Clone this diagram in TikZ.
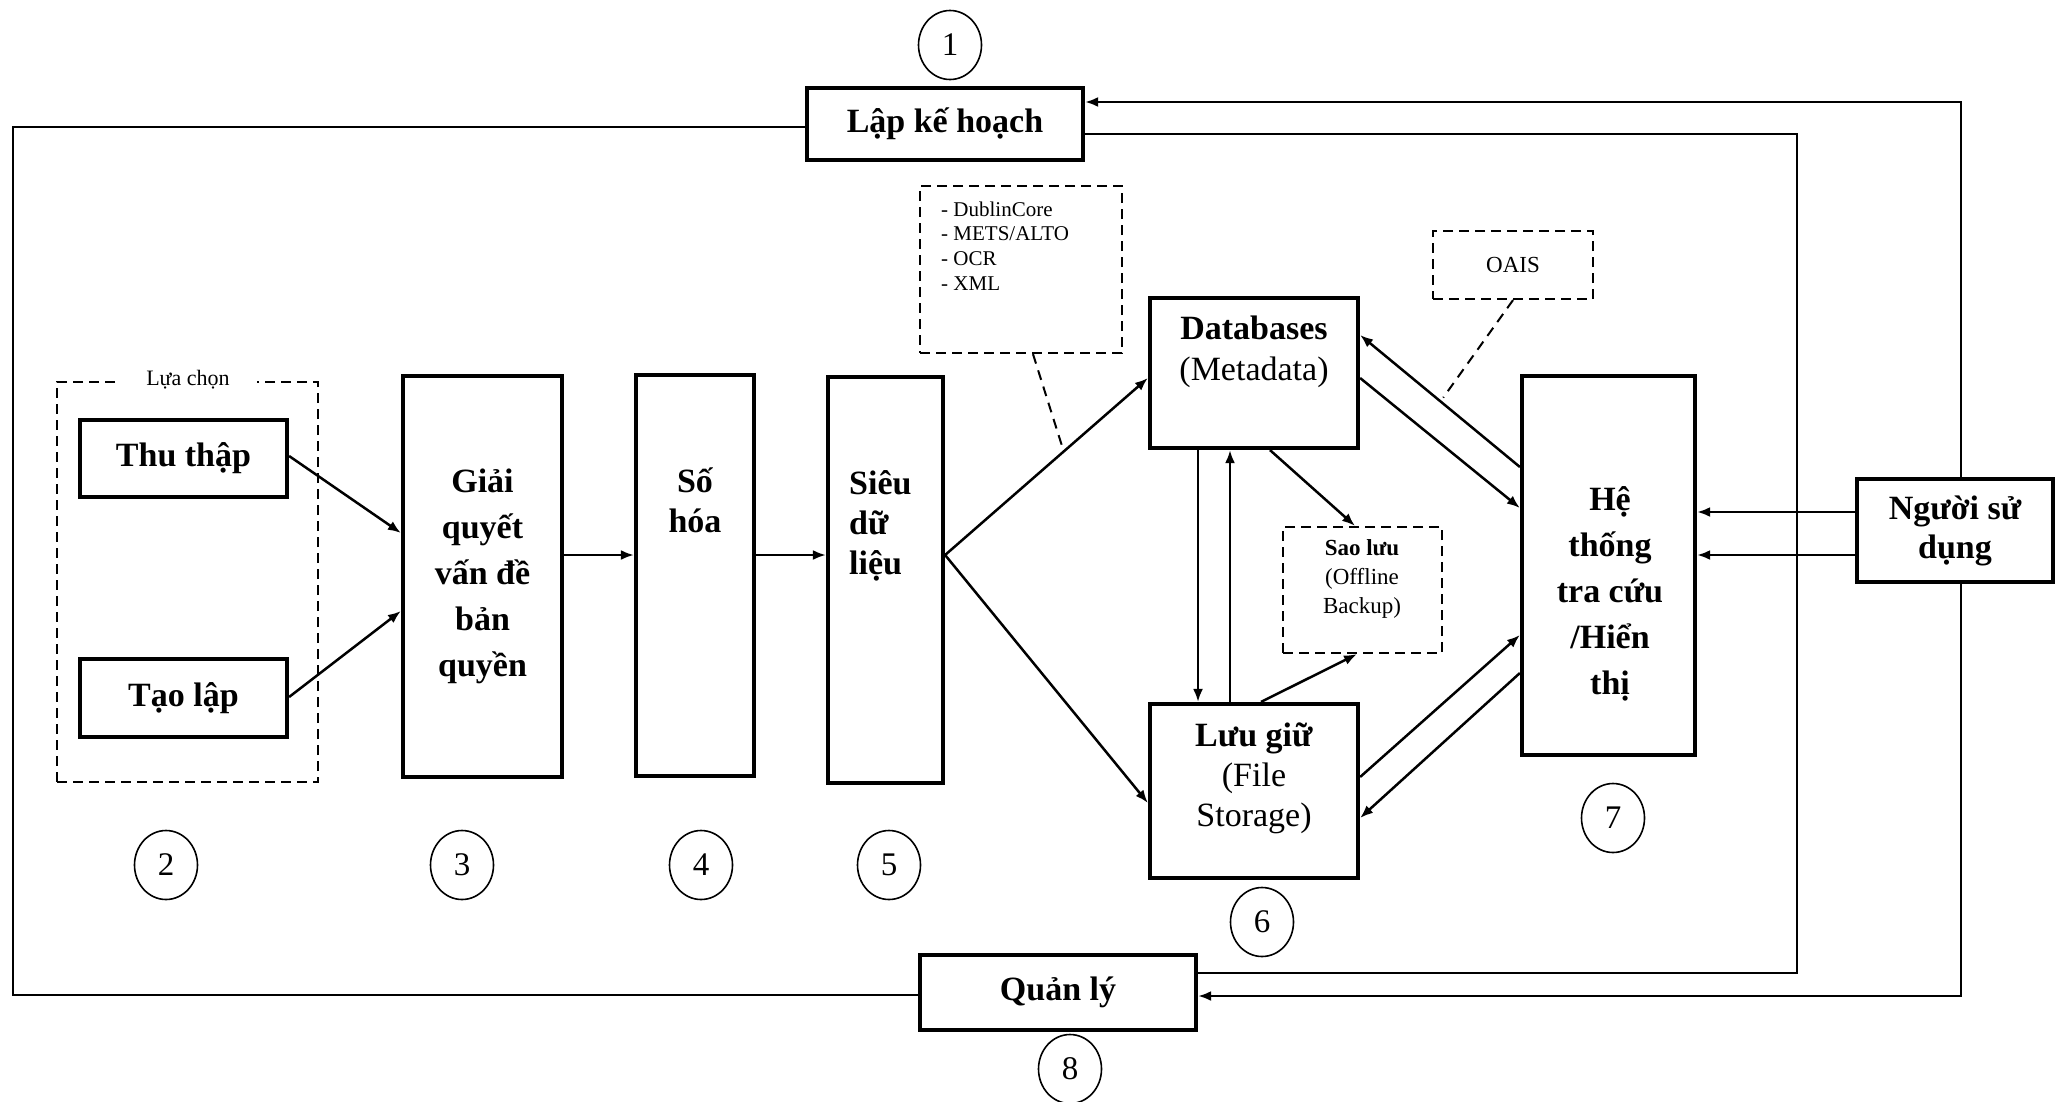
\documentclass[tikz,border=0pt]{standalone}
\usepackage{fontspec}
\setmainfont{Liberation Serif}
\usetikzlibrary{arrows.meta,shapes.geometric,calc}
\begin{document}
\begin{tikzpicture}[x=1pt,y=-1pt,
  box/.style={draw,line width=4.2pt,fill=white,inner sep=0pt},
  dbox/.style={draw,line width=2.2pt,dash pattern=on 10pt off 6pt,inner sep=0pt},
  num/.style={draw,ellipse,line width=1.6pt,minimum width=63pt,minimum height=69pt,inner sep=0pt,font=\fontsize{33}{33}\selectfont},
  big/.style={font=\fontsize{34}{46}\selectfont\bfseries,align=center,inner sep=0pt},
  conn/.style={line width=2.5pt,-{Latex[length=13pt,width=10pt]}},
  plain/.style={line width=2.5pt},
  dconn/.style={line width=2pt,dash pattern=on 10pt off 7pt}]
\useasboundingbox (0,0) rectangle (2058,1101);

% helper rows
\coordinate (r555) at (0,555);

% number ellipses
\node[num] (n1) at (950,45) {1};
\node[num] (n2) at (166,865) {2};
\node[num] (n3) at (462,865) {3};
\node[num] (n4) at (701,865) {4};
\node[num] (n5) at (889,865) {5};
\node[num] (n6) at (1262,922) {6};
\node[num] (n7) at (1613,818) {7};
\node[num] (n8) at (1070,1069) {8};

% dashed group
\node[dbox,minimum width=261pt,minimum height=400pt] (lc) at (187.5,582) {};
\node[fill=white,inner xsep=27pt,inner ysep=2pt,font=\fontsize{22}{22}\selectfont] (lcl) at (188,380) {Lựa chọn};

% main boxes
\node[box,big,minimum width=276pt,minimum height=72pt] (plan) at (945,124) {Lập kế hoạch};
\node[box,big,minimum width=276pt,minimum height=75pt] (mgmt) at (1058,992.5) {Quản lý};
\node[box,big,minimum width=207pt,minimum height=77pt] (thu) at (183.5,458.5) {Thu thập};
\node[box,big,minimum width=207pt,minimum height=78pt] (tao) at (183.5,698) {Tạo lập};
\node[box,big,minimum width=159pt,minimum height=401pt] (giai) at (482.5,576.5) {Giải\\quyết\\vấn đề\\bản\\quyền};
\node[box,minimum width=118pt,minimum height=401pt] (soh) at (695,575.5) {};
\node[big,font=\fontsize{34}{40}\selectfont\bfseries] (sohT) at (695,500) {Số\\hóa};
\node[box,minimum width=115pt,minimum height=406pt] (sieu) at (885.5,580) {};
\node[big,align=left,anchor=west,font=\fontsize{34}{40}\selectfont\bfseries] (sieuT) at (849,526) {Siêu\\dữ\\liệu};
\node[box,minimum width=208pt,minimum height=150pt] (db) at (1254,373) {};
\node[big,font=\fontsize{34}{41}\selectfont] (dbT) at (1254,352) {\textbf{Databases}\\(Metadata)};
\node[box,minimum width=208pt,minimum height=174pt] (luu) at (1254,791) {};
\node[big,font=\fontsize{34}{40}\selectfont] (luuT) at (1254,778) {\textbf{Lưu giữ}\\(File\\Storage)};
\node[box,minimum width=173pt,minimum height=379pt] (he) at (1608.5,565.5) {};
\node[big] (heT) at (1610,594) {Hệ\\thống\\tra cứu\\/Hiển\\thị};
\node[box,big,font=\fontsize{34}{39}\selectfont\bfseries,minimum width=196pt,minimum height=103pt] (user) at (1955,530.5) {Người sử\\dụng};

% dashed notes
\node[dbox,minimum width=202pt,minimum height=167pt] (meta) at (1021,269.5) {};
\node[anchor=west,align=left,inner sep=0pt,font=\fontsize{21}{24.7}\selectfont] (metaT) at (941,246) {- DublinCore\\- METS/ALTO\\- OCR\\- XML};
\node[dbox,minimum width=160pt,minimum height=68pt,font=\fontsize{23}{23}\selectfont] (oais) at (1513,265) {OAIS};
\node[dbox,minimum width=159pt,minimum height=126pt] (sao) at (1362.5,590) {};
\node[align=center,inner sep=0pt,font=\fontsize{23}{29}\selectfont] (saoT) at (1362,579) {\textbf{Sao lưu}\\(Offline\\Backup)};

% flow connectors
\draw[conn] ($(thu.east)+(0,-2.5)$) -- (giai.west |- 0,533);
\draw[conn] ($(tao.east)+(0,-1)$) -- (giai.west |- 0,611);
\draw[conn] (giai.east |- r555) -- (soh.west |- r555);
\draw[conn] (soh.east |- r555) -- (sieu.west |- r555);
\coordinate (sA) at (sieu.east |- r555);
\coordinate (dA) at (db.west |- 0,378);
\coordinate (lA) at (luu.west |- 0,803);
\draw[conn] (sA) -- (dA);
\draw[conn] (sA) -- (lA);
\draw[dconn] (meta.south -| 1033,0) -- ($(sA)!0.585!(dA)$);

\draw[conn] (db.south -| 1198,0) -- (luu.north -| 1198,0);
\draw[conn] (luu.north -| 1230,0) -- (db.south -| 1230,0);
\draw[conn] (db.south -| 1270,0) -- (sao.north -| 1355,0);
\draw[conn] (luu.north -| 1261,0) -- (sao.south -| 1357,0);

\coordinate (heA) at (he.west |- 0,467);
\coordinate (dbA) at (db.east |- 0,335);
\draw[conn] (heA) -- (dbA);
\draw[conn] (db.east |- 0,378) -- (he.west |- 0,508);
\draw[dconn] (oais.south -| 1513,0) -- ($($(heA)!0.48!(dbA)$)+(0,-6)$);
\draw[conn] (luu.east |- 0,777) -- (he.west |- 0,635);
\draw[conn] (he.west |- 0,673) -- (luu.east |- 0,818);

\draw[conn] (user.west |- 0,512) -- (he.east |- 0,512);
\draw[conn] (user.west |- 0,555) -- (he.east |- 0,555);

% outer loops
\draw[plain] ($(plan.west)+(0,3)$) -- (13,127) -- (13,995) -- ($(mgmt.west)+(0,2.5)$);
\draw[plain] ($(plan.east)+(0,10)$) -- (1797,134) -- (1797,973) -- ($(mgmt.east)+(0,-19.5)$);
\draw[conn] ($(user.north)+(6,0)$) |- ($(plan.east)+(0,-22)$);
\draw[conn] ($(user.south)+(6,0)$) |- ($(mgmt.east)+(0,3.5)$);
\end{tikzpicture}
\end{document}
